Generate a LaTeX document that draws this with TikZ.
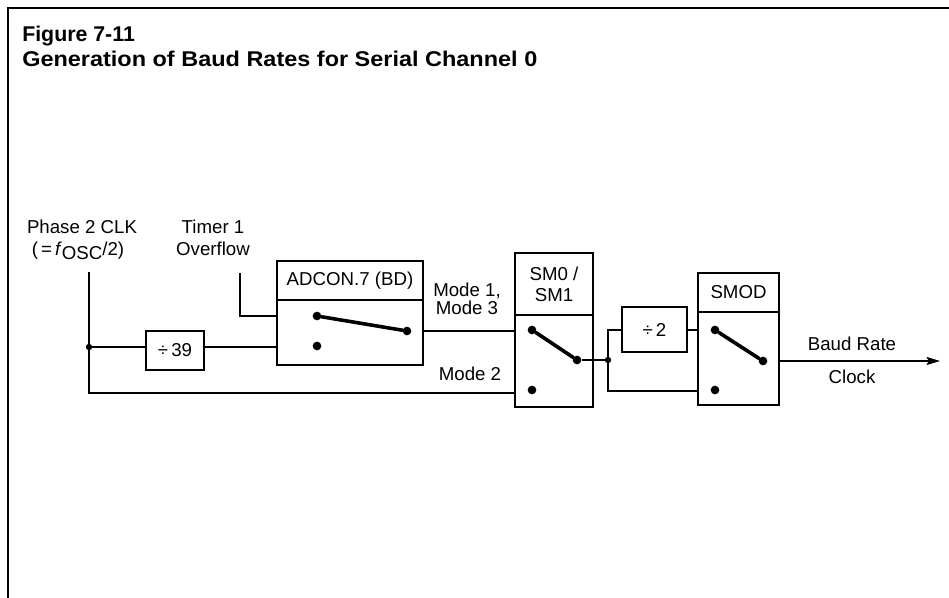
\documentclass[tikz,border=0pt]{standalone}
\usepackage{fontspec}
\setmainfont{Liberation Sans}
\usetikzlibrary{arrows.meta,calc}
\begin{document}
\begin{tikzpicture}[x=0.75pt,y=-0.75pt,
  font=\fontsize{14}{16}\selectfont,
  box/.style={draw,line width=2.2pt,inner sep=0pt},
  wire/.style={line width=1.15pt},
  lever/.style={line width=2.7pt,line cap=round},
  dot/.style={circle,fill,inner sep=0pt,minimum size=6.5pt},
  jn/.style={circle,fill,inner sep=0pt,minimum size=4.8pt},
  lbl/.style={align=center,inner sep=0pt},
  ttl/.style={anchor=base west,inner sep=0pt,font=\bfseries\fontsize{16}{19}\selectfont}]
\useasboundingbox (0,0) rectangle (949,598);
\draw[line width=1.6pt] (8,598) -- (8,8) -- (949,8);

% title
\node[ttl] (t1) at (22,42) {Figure 7-11};
\node[ttl] (t2) at (22,67) {\scalebox{1.1}[1.0]{Generation of Baud Rates for Serial Channel 0}};

% boxes
\node[box, minimum width=43.5pt, minimum height=29.25pt] (d39) at (175,350.5) {÷\,39};
\node[box, minimum width=109.5pt, minimum height=29.25pt] (adh) at (350,280.5) {ADCON.7 (BD)};
\node[box, minimum width=109.5pt, minimum height=48.75pt] (adb) at (350,332.5) {};
\node[box, minimum width=58.5pt, minimum height=46.5pt, align=center] (smh) at (554,284) {SM0 /\\SM1};
\node[box, minimum width=58.5pt, minimum height=69pt] (smb) at (554,361) {};
\node[box, minimum width=48.75pt, minimum height=33.75pt] (d2) at (654.5,329.5) {÷\,2\hspace{8pt}};
\node[box, minimum width=60.75pt, minimum height=29.25pt] (mdh) at (738.5,292.5) {SMOD};
\node[box, minimum width=60.75pt, minimum height=69.75pt] (mdb) at (738.5,358.5) {};

% switch contacts
\node[dot] (a1) at (317,316) {};
\node[dot] (a2) at (317,346) {};
\node[dot] (a3) at (407,331) {};
\node[dot] (s1) at (532,330) {};
\node[dot] (s2) at (577,360) {};
\node[dot] (s3) at (532,390) {};
\node[dot] (m1) at (715,330) {};
\node[dot] (m2) at (763,361) {};
\node[dot] (m3) at (715,390) {};

% levers
\draw[lever] (a1) -- (a3);
\draw[lever] (s1) -- (s2);
\draw[lever] (m1) -- (m2);

% labels
\node[lbl, anchor=base] (ph1) at (82,234) {Phase 2 CLK};
\node[lbl, anchor=base] (ph2) at (78,256) {(\,=\,\textit{f}\raisebox{-0.35ex}{OSC}/2)};
\node[lbl, anchor=base] (tm1) at (213,234) {Timer 1};
\node[lbl, anchor=base] (tm2) at (213,256) {Overflow};
\node[lbl, anchor=base] (md1) at (467,297) {Mode 1,};
\node[lbl, anchor=base] (md3) at (467,315) {Mode 3};
\node[lbl, anchor=base] (md2) at (470,380) {Mode 2};
\node[lbl, anchor=base] (br) at (852,350) {Baud Rate};
\node[lbl, anchor=base] (ck) at (852,383) {Clock};

% wiring points
\coordinate (phtop) at (89,272);
\node[jn] (j1) at (89,347) {};
\coordinate (phbot) at (89,393);
\coordinate (tmtop) at (240,273);
\coordinate (tmcorner) at (240,316);
\node[jn] (j2) at (608,360) {};
\coordinate (j2u) at (608,330);
\coordinate (j2d) at (608,391);
\coordinate (out) at (940,361);

% wires
\draw[wire] (phtop) -- (phbot) -- (phbot -| smb.west);
\draw[wire] (j1) -- (j1 -| d39.west);
\draw[wire] (d39.east |- j1) -- (j1 -| adb.west);
\draw[wire] (tmtop) -- (tmcorner) -- (tmcorner -| adb.west);
\draw[wire] (a3 -| adb.east) -- (a3 -| smb.west);
\draw[wire] (s2) -- (j2);
\draw[wire] (j2) -- (j2u) -- (j2u -| d2.west);
\draw[wire] (d2.east |- j2u) -- (j2u -| mdb.west);
\draw[wire] (j2) -- (j2d) -- (j2d -| mdb.west);
\draw[wire,-{Stealth[length=10pt,width=6pt,inset=1.5pt]}] (m2 -| mdb.east) -- (out);
\end{tikzpicture}
\end{document}
